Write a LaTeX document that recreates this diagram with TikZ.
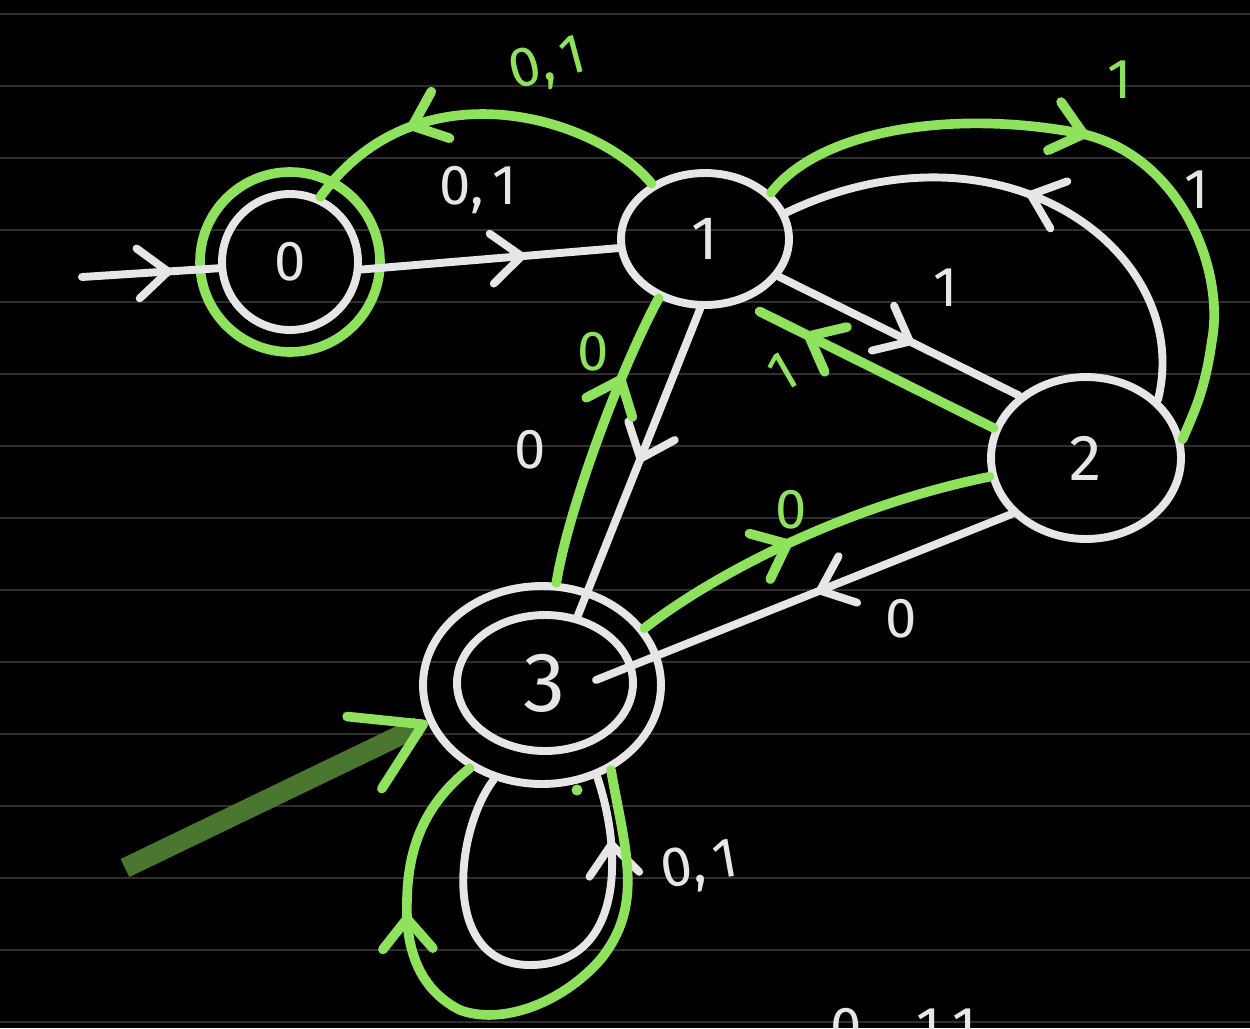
\documentclass[tikz,border=0pt]{standalone}
\usepackage{fontspec}
\setmainfont{Fira Sans}
\usetikzlibrary{arrows.meta,decorations.markings,shapes.geometric}
\definecolor{wht}{HTML}{E6E6E6}
\definecolor{grn}{HTML}{8FE35C}
\definecolor{dgrn}{HTML}{4B7630}
\definecolor{ruled}{HTML}{2E2E2E}
\begin{document}
\begin{tikzpicture}[x=0.02cm,y=-0.02cm, line cap=round, line join=round,
  wline/.style={draw=wht, line width=4.5pt},
  gline/.style={draw=grn, line width=5.5pt},
  stnode/.style={ellipse, wline, inner sep=0pt, text=wht},
  lab/.style={font=\fontsize{32}{36}\selectfont, inner sep=0pt},
  midarr/.style={postaction={decorate}, decoration={markings, mark=at position #1 with {\arrow{Straight Barb[length=0.6cm,width=1.0cm,round]}}}},
]
\fill[black] (0,0) rectangle (1250,1028);
\useasboundingbox (0,0) rectangle (1250,1028);
\clip (0,0) rectangle (1250,1028);
\foreach \k in {0,...,14} \draw[ruled, line width=1.1pt, line cap=butt] (0,{14+72*\k}) -- (1250,{14+72*\k});

% states
\node[stnode, circle, minimum size=2.72cm, font=\fontsize{32}{36}\selectfont] (n0) at (290,262) {0};
\draw[gline] (n0.center) circle[radius=1.8cm];
\node[stnode, minimum width=3.36cm, minimum height=2.64cm, font=\fontsize{35}{40}\selectfont] (n1) at (705,239) {1};
\node[stnode, minimum width=3.8cm, minimum height=3.24cm, font=\fontsize{37}{42}\selectfont] (n2) at (1086,458) {2};
\node[stnode, minimum width=4.76cm, minimum height=3.96cm] (n3) at (542,685) {};
\node[stnode, minimum width=3.52cm, minimum height=2.72cm, font=\fontsize{48}{54}\selectfont] (n3in) at (545,683) {3};

% white connectors
\coordinate (s0) at (82,277);
\draw[wline, midarr=0.66] (s0) -- (n0.185);
\draw[wline, midarr=0.64] (n0.-6) -- (n1.186);
\draw[wline, midarr=0.5] (n1.-94) -- (n3in.64);
\draw[wline, midarr=0.56] (n1.-27) -- (n2.137);
\draw[wline, midarr=0.52] (n2.39) .. controls (1195,250) and (1000,110) .. (n1.18);
\coordinate (e3) at (596,680);
\draw[wline, midarr=0.47] (n2.217) -- (e3);
\draw[wline, midarr=0.86] (n3.243) .. controls (455,830) and (440,965) .. (530,965) .. controls (620,965) and (625,860) .. (n3.301);

% green connectors
\draw[gline, midarr=0.7] (n1.134) .. controls (600,120) and (420,60) .. (n0.65);
\draw[gline, midarr=0.48] (n1.35) .. controls (820,130) and (950,110) .. (1073,132) .. controls (1180,150) and (1225,270) .. (1212,340) .. controls (1205,390) and (1195,410) .. (n2.11);
\draw[gline, midarr=0.75, shorten >=0.4cm] (n2.162) -- (n1.-60);
\draw[gline, midarr=0.72] (n3.82) .. controls (568,510) and (620,370) .. (n1.232);
\draw[gline, midarr=0.45] (n3.29) .. controls (720,570) and (850,505) .. (n2.191);
\draw[gline, midarr=0.74] (n3.309) .. controls (625,850) and (645,905) .. (600,960) .. controls (560,1005) and (500,1025) .. (460,1010) .. controls (420,990) and (405,950) .. (407,900) .. controls (408,840) and (430,800) .. (n3.229);
\fill[grn] (577,790) circle[radius=0.11cm];

% start arrow into 3
\coordinate (s3) at (125,868);
\draw[draw=dgrn, line width=0.4cm, line cap=butt, -{Straight Barb[length=1.3cm, width=1.6cm, color=grn, line width=5.5pt, round]}] (s3) -- (n3.198);

% labels
\node[lab, text=wht] (l01a) at (478,190) {0,\kern0.15em1};
\node[lab, text=grn, rotate=15] (l01b) at (548,66) {0,\kern0.15em1};
\node[lab, text=grn] (l1a) at (1120,80) {1};
\node[lab, text=wht] (l1b) at (1197,190) {1};
\node[lab, text=wht] (l1c) at (946,288) {1};
\node[lab, text=grn, rotate=30] (l1d) at (783,372) {1};
\node[lab, text=wht] (l0a) at (530,450) {0};
\node[lab, text=grn] (l0b) at (593,352) {0};
\node[lab, text=grn] (l0c) at (791,510) {0};
\node[lab, text=wht] (l0d) at (901,619) {0};
\node[lab, text=wht, rotate=10] (l01c) at (700,868) {0,\kern0.15em1};
\node[lab, text=wht, anchor=north west] (l01d) at (830,1008) {0,\kern0.75em1\kern0.2em1};
\end{tikzpicture}
\end{document}
